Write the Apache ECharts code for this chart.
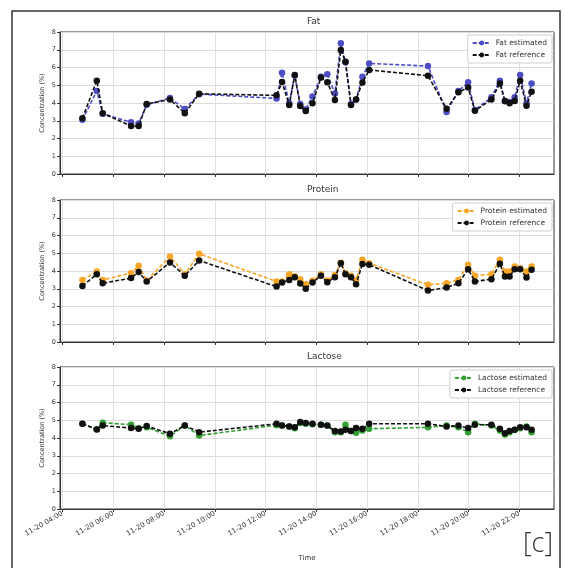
<!DOCTYPE html>
<html>
<head>
<meta charset="utf-8">
<script src="https://cdn.jsdelivr.net/npm/echarts@6/dist/echarts.min.js"></script>
<style>
html,body{margin:0;padding:0;background:#fff;}
#c{width:565px;height:568px;}
</style>
</head>
<body>
<div id="c"></div>
<script>
// sample times (11-20, HH:MM)
const sampleTimes = ['04:47','05:21','05:35','06:42','07:00','07:19','08:14','08:49','09:23','12:26','12:39','12:56','13:09','13:22','13:35','13:51','14:11','14:26','14:44','14:58','15:09','15:22','15:34','15:49','16:05','18:24','19:08','19:36','19:59','20:15','20:54','21:14','21:26','21:37','21:49','22:02','22:17','22:29'];
const fatEstimated = [3.05,4.68,3.40,2.91,2.85,3.90,4.28,3.66,4.50,4.26,5.71,3.98,5.55,3.95,3.64,4.36,5.48,5.62,4.54,7.36,6.30,3.95,4.20,5.48,6.23,6.08,3.50,4.68,5.17,3.60,4.32,5.26,4.10,4.05,4.32,5.58,3.98,5.10];
const fatReference = [3.14,5.26,3.42,2.70,2.70,3.94,4.20,3.42,4.52,4.43,5.18,3.89,5.58,3.83,3.55,3.98,5.43,5.17,4.17,6.99,6.33,3.89,4.20,5.15,5.86,5.54,3.68,4.60,4.88,3.56,4.20,5.10,4.11,3.98,4.11,5.26,3.85,4.64];
const proteinEstimated = [3.50,3.97,3.50,3.88,4.29,3.45,4.82,3.82,4.97,3.41,3.41,3.82,3.70,3.54,3.25,3.45,3.82,3.46,3.78,4.47,3.88,3.73,3.50,4.63,4.44,3.22,3.31,3.50,4.35,3.73,3.82,4.63,3.97,3.97,4.25,4.15,3.97,4.25];
const proteinReference = [3.16,3.82,3.31,3.60,3.94,3.41,4.48,3.73,4.59,3.12,3.35,3.50,3.65,3.30,3.00,3.35,3.73,3.37,3.65,4.44,3.82,3.65,3.26,4.39,4.35,2.90,3.07,3.31,4.10,3.41,3.54,4.41,3.69,3.69,4.10,4.10,3.63,4.07];
const lactoseEstimated = [4.80,4.50,4.86,4.75,4.55,4.60,4.10,4.70,4.14,4.72,4.70,4.65,4.55,4.85,4.80,4.78,4.75,4.70,4.33,4.33,4.75,4.39,4.29,4.42,4.52,4.60,4.70,4.60,4.33,4.80,4.70,4.42,4.20,4.33,4.46,4.55,4.65,4.33];
const lactoseReference = [4.80,4.48,4.70,4.56,4.52,4.67,4.24,4.70,4.33,4.80,4.70,4.65,4.61,4.90,4.85,4.80,4.75,4.70,4.39,4.37,4.46,4.39,4.56,4.52,4.80,4.80,4.65,4.70,4.56,4.75,4.75,4.52,4.27,4.39,4.46,4.61,4.61,4.46];
const tickTimes = ['04:00','06:00','08:00','10:00','12:00','14:00','16:00','18:00','20:00','22:00'];
const yTicks = [0,1,2,3,4,5,6,7,8];
const panelTitles = ['Fat','Protein','Lactose'];

function ts(hm){const p=hm.split(':');return new Date(2020,10,20,+p[0],+p[1]).getTime();}
function pad(n){return (n<10?'0':'')+n;}
function fmt(v){const d=new Date(v);return '11-20 '+pad(d.getHours())+':'+pad(d.getMinutes());}
const xs = sampleTimes.map(ts);
const ticks = tickTimes.map(ts);
const xMin = ts('03:54'), xMax = ts('23:22');

const FONT = 'DejaVu Sans';
const grids = [
  {left:60, top:32, width:494, height:142},
  {left:60, top:200, width:494, height:142},
  {left:60, top:367, width:494, height:142}
];
const panels = [
  {est:fatEstimated, ref:fatReference, color:'#4d4dc6', name:'Fat'},
  {est:proteinEstimated, ref:proteinReference, color:'#f7a628', name:'Protein'},
  {est:lactoseEstimated, ref:lactoseReference, color:'#31a031', name:'Lactose'}
];

const xAxis = grids.map((g,i)=>({
  type:'value', gridIndex:i, min:xMin, max:xMax, scale:true,
  axisLine:{show:true,onZero:false,lineStyle:{color:'#333',width:1}},
  axisTick:{show:true,length:3,customValues:ticks,lineStyle:{color:'#333'}},
  splitLine:{show:true,lineStyle:{color:'#e0e0e0',width:1}},
  axisLabel:{show:i===2,customValues:ticks,rotate:30,fontSize:7,fontFamily:FONT,color:'#333',margin:4,formatter:fmt,hideOverlap:false,showMinLabel:true,showMaxLabel:true},
  name:i===2?'Time':'', nameLocation:'middle', nameGap:46, nameMoveOverlap:false,
  nameTextStyle:{fontSize:7,fontFamily:FONT,color:'#333'}
}));
const yAxis = grids.map((g,i)=>({
  type:'value', gridIndex:i, min:0, max:8, interval:1,
  axisLine:{show:true,lineStyle:{color:'#333',width:1}},
  axisTick:{show:true,length:3,lineStyle:{color:'#333'}},
  splitLine:{show:true,lineStyle:{color:'#dcdcdc',width:1}},
  axisLabel:{fontSize:6.5,fontFamily:FONT,color:'#333',margin:4,formatter:v=>yTicks.includes(v)?String(v):''},
  name:'Concentration (%)', nameLocation:'middle', nameGap:14, nameRotate:90, nameMoveOverlap:false,
  nameTextStyle:{fontSize:6.5,fontFamily:FONT,color:'#333'}
}));

const series = [];
const legends = [];
panels.forEach((p,i)=>{
  const estName = p.name+' estimated', refName = p.name+' reference';
  series.push({
    name:estName, type:'line', xAxisIndex:i, yAxisIndex:i,
    data:xs.map((x,k)=>[x,p.est[k]]),
    symbol:'circle', symbolSize:6.5, color:p.color,
    lineStyle:{color:p.color,width:1.6,type:[4,2]},
    itemStyle:{color:p.color}, animation:false, z:3
  });
  series.push({
    name:refName, type:'line', xAxisIndex:i, yAxisIndex:i,
    data:xs.map((x,k)=>[x,p.ref[k]]),
    symbol:'circle', symbolSize:6.5, color:'#111',
    lineStyle:{color:'#111',width:1.6,type:[4,2]},
    itemStyle:{color:'#111'}, animation:false, z:4
  });
  legends.push({
    data:[estName,refName], orient:'vertical', right:13, top:grids[i].top+3,
    itemWidth:18, itemHeight:6, itemGap:4, padding:[4,5,4,4],
    borderColor:'#cfcfcf', borderWidth:1, borderRadius:2, backgroundColor:'#fff',
    textStyle:{fontSize:7.5,fontFamily:FONT,color:'#333'},
    selectedMode:false
  });
});

const graphic = [
  {type:'rect', shape:{x:12,y:11,width:548,height:560}, style:{fill:'none',stroke:'#333',lineWidth:1.5}, silent:true},
  {type:'text', right:12, top:531, style:{text:'[c]', font:'300 27px "Open Sans"', fill:'#333'}}
];
grids.forEach((g,i)=>{
  graphic.push({type:'text', left:g.left+g.width/2, top:g.top-15, style:{text:panelTitles[i], font:'9px "DejaVu Sans"', fill:'#333', textAlign:'center'}});
});

const chart = echarts.init(document.getElementById('c'), null, {renderer:'canvas'});
chart.setOption({
  backgroundColor:'#fff',
  animation:false,
  grid:grids.map(g=>Object.assign({show:true,borderColor:'#333',borderWidth:1,backgroundColor:'transparent'},g)),
  xAxis, yAxis, series, legend:legends, graphic
});
</script>
</body>
</html>
